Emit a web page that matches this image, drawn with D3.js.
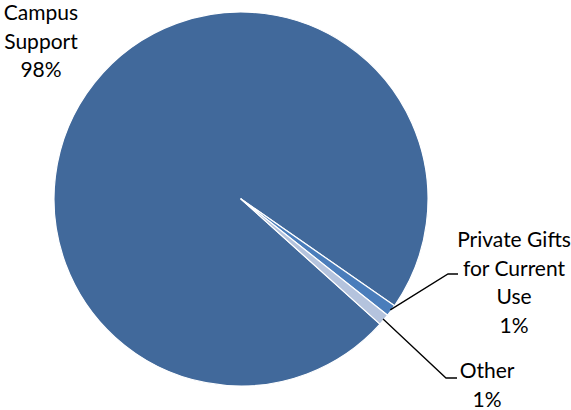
<!DOCTYPE html>
<html>
<head>
<meta charset="utf-8">
<script src="https://cdn.jsdelivr.net/npm/d3@7"></script>
<style>
  html, body { margin: 0; padding: 0; background: #fff; }
  svg text { font-family: Lato, "Open Sans", sans-serif; fill: #000; }
</style>
</head>
<body>
<svg id="chart" width="571" height="410"></svg>
<script>
// pie data
var categories = ["Campus Support", "Private Gifts for Current Use", "Other"];
var values = [98, 1, 1];
var pctLabels = ["98%", "1%", "1%"];
var labelLines = [["Campus", "Support", "98%"], ["Private Gifts", "for Current", "Use", "1%"], ["Other", "1%"]];
var colors = ["#41699b", "#4a7dbb", "#b4c3dd"];

var svg = d3.select("#chart");
var cx = 241, cy = 199, radius = 187;
var firstAngle = 132 * Math.PI / 180;

var pie = d3.pie().sort(null).value(function(d) { return d; })
    .startAngle(firstAngle).endAngle(firstAngle + 2 * Math.PI);
var arc = d3.arc().innerRadius(0).outerRadius(radius);

var g = svg.append("g").attr("transform", "translate(" + cx + "," + cy + ")");
var arcs = pie(values);

g.selectAll("path")
    .data(arcs)
    .enter().append("path")
    .attr("d", arc)
    .attr("fill", function(d, i) { return colors[i]; })
    .attr("stroke", "#fff")
    .attr("stroke-width", 1.2)
    .attr("stroke-linejoin", "round");

// label layout (x centre, first baseline), leader elbow
var labelPos = [
    {x: 41, y: 20, leader: null},
    {x: 514, y: 247, leader: {ex: 448, ey: 274, hx: 458}},
    {x: 487, y: 378, leader: {ex: 446, ey: 378, hx: 457}}
];
var lineH = 28.5;

arcs.forEach(function(d, i) {
    var p = labelPos[i];
    if (p.leader) {
        var mid = (d.startAngle + d.endAngle) / 2;
        var sx = cx + Math.sin(mid) * (radius - 1);
        var sy = cy - Math.cos(mid) * (radius - 1);
        svg.append("path")
            .attr("d", "M" + sx + "," + sy + "L" + p.leader.ex + "," + p.leader.ey + "H" + p.leader.hx)
            .attr("fill", "none")
            .attr("stroke", "#000")
            .attr("stroke-width", 1.3);
    }
    var t = svg.append("text")
        .attr("text-anchor", "middle")
        .attr("font-size", "21px");
    labelLines[i].forEach(function(line, j) {
        t.append("tspan")
            .attr("x", p.x)
            .attr("y", p.y + j * lineH)
            .text(line);
    });
});
</script>
</body>
</html>
